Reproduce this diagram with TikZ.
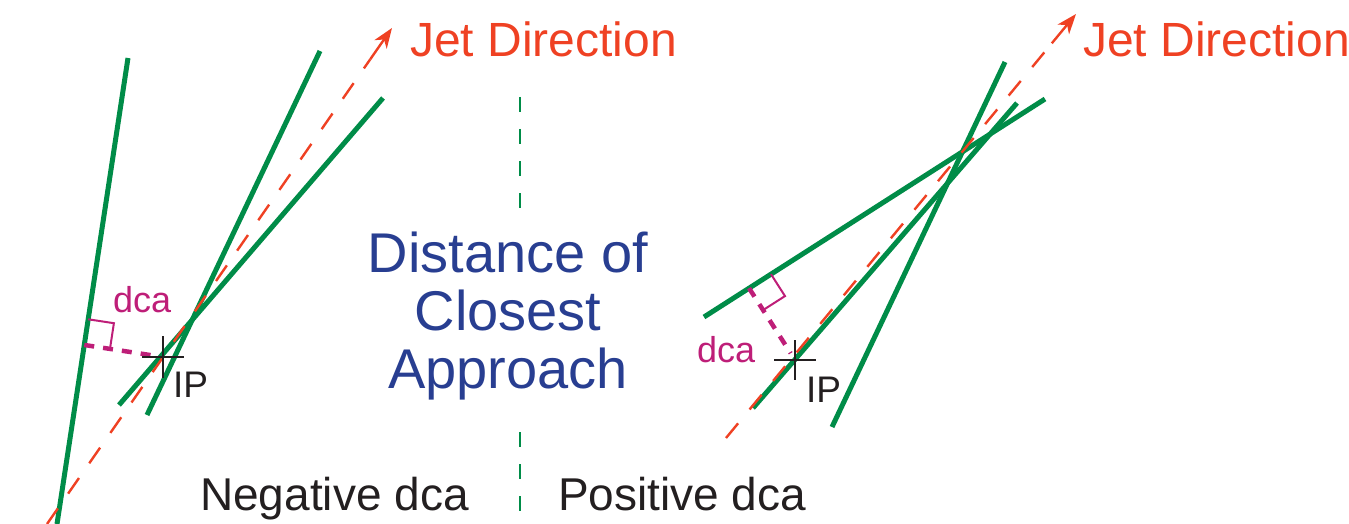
\documentclass[tikz,border=0pt]{standalone}
\usepackage{fontspec}
\setmainfont{Liberation Sans}
\usetikzlibrary{calc,arrows.meta}
\definecolor{trk}{RGB}{0,140,72}
\definecolor{jet}{RGB}{239,65,35}
\definecolor{dcac}{RGB}{190,30,120}
\definecolor{titl}{RGB}{40,62,145}
\definecolor{ink}{RGB}{35,31,32}
\begin{document}
\begin{tikzpicture}[x=1pt,y=-1pt,
  track/.style={trk,line width=5pt},
  jetline/.style={jet,line width=2.4pt,dash pattern=on 19pt off 18pt},
  jettip/.style={jet,line width=2.4pt,-{Stealth[length=20pt,width=15pt,inset=6pt]}},
  dcaline/.style={dcac,line width=4.5pt,dash pattern=on 10pt off 9pt},
  rightangle/.style={dcac,line width=2pt},
  ipcross/.style={ink,line width=2.6pt},
  divider/.style={trk,line width=2.5pt,dash pattern=on 15pt off 17pt},
  jetlabel/.style={jet,font=\fontsize{48}{50}\selectfont,anchor=base west,inner sep=0pt},
  titlelabel/.style={titl,font=\fontsize{56}{58}\selectfont,align=center,anchor=north,inner sep=0pt},
  signlabel/.style={ink,font=\fontsize{46}{48}\selectfont,anchor=base west,inner sep=0pt},
  dcalabel/.style={dcac,font=\fontsize{36}{38}\selectfont,anchor=base west,inner sep=0pt},
  iplabel/.style={ink,font=\fontsize{37}{39}\selectfont,anchor=base west,inner sep=0pt}]
\useasboundingbox (0,0) rectangle (1349,524);
% ---------- left panel ----------
\coordinate (L1a) at (128,58);  \coordinate (L1b) at (57,524);
\coordinate (L2a) at (320,51);  \coordinate (L2b) at (147,415);
\coordinate (L3a) at (383,98);  \coordinate (L3b) at (119,405);
\coordinate (LJa) at (47,524);  \coordinate (LJb) at (392,28);
\coordinate (LJc) at ($(LJb)!38pt!(LJa)$);
\coordinate (ipL) at (163,357);
\coordinate (fL) at ($(L1a)!(ipL)!(L1b)$);
\coordinate (sLa) at ($(fL)!26pt!(L1a)$);
\coordinate (sLb) at ($(fL)!26pt!(ipL)$);
\coordinate (sLc) at ($(sLa)+(sLb)-(fL)$);
\draw[track] (L1a) -- (L1b);
\draw[track] (L2a) -- (L2b);
\draw[track] (L3a) -- (L3b);
\draw[jetline] (LJa) -- (LJc);
\draw[jettip] (LJc) -- (LJb);
\draw[rightangle] (sLa) -- (sLc) -- (sLb);
\draw[dcaline,shorten >=6pt] (fL) -- (ipL);
\draw[ipcross] ($(ipL)+(-21,0)$) -- ($(ipL)+(21,0)$);
\draw[ipcross] ($(ipL)+(0,-21)$) -- ($(ipL)+(0,21)$);
% ---------- right panel ----------
\coordinate (RAa) at (1005,62); \coordinate (RAb) at (832,427);
\coordinate (RBa) at (1017,103); \coordinate (RBb) at (753,408);
\coordinate (RCa) at (1045,99); \coordinate (RCb) at (704,317);
\coordinate (RJa) at (726,438); \coordinate (RJb) at (1076,14);
\coordinate (RJc) at ($(RJb)!38pt!(RJa)$);
\coordinate (ipR) at (795,360);
\coordinate (fR) at ($(RCb)!(ipR)!(RCa)$);
\coordinate (sRa) at ($(fR)!26pt!(RCa)$);
\coordinate (sRb) at ($(fR)!26pt!(ipR)$);
\coordinate (sRc) at ($(sRa)+(sRb)-(fR)$);
\draw[track] (RAa) -- (RAb);
\draw[track] (RBa) -- (RBb);
\draw[track] (RCa) -- (RCb);
\draw[jetline] (RJa) -- (RJc);
\draw[jettip] (RJc) -- (RJb);
\draw[rightangle] (sRa) -- (sRc) -- (sRb);
\draw[dcaline,shorten >=8pt] (fR) -- (ipR);
\draw[ipcross] ($(ipR)+(-21,0)$) -- ($(ipR)+(21,0)$);
\draw[ipcross] ($(ipR)+(0,-20)$) -- ($(ipR)+(0,20)$);
% ---------- divider ----------
\coordinate (dv1) at (520,97);  \coordinate (dv2) at (520,210);
\coordinate (dv3) at (520,432); \coordinate (dv4) at (520,512);
\draw[divider] (dv1) -- (dv2);
\draw[divider] (dv3) -- (dv4);
% ---------- labels ----------
\node[jetlabel] (jetL) at (410,57) {Jet Direction};
\node[jetlabel] (jetR) at (1083,57) {Jet Direction};
\node[titlelabel] (title) at (508,232) {Distance of\\Closest\\Approach};
\node[signlabel] (neg) at (200,510) {Negative dca};
\node[signlabel] (pos) at (558,510) {Positive dca};
\node[dcalabel] (dcaL) at (113,312) {dca};
\node[dcalabel] (dcaR) at (697,362) {dca};
\node[iplabel] (ipTxtL) at (173,397) {IP};
\node[iplabel] (ipTxtR) at (806,402) {IP};
\end{tikzpicture}
\end{document}
